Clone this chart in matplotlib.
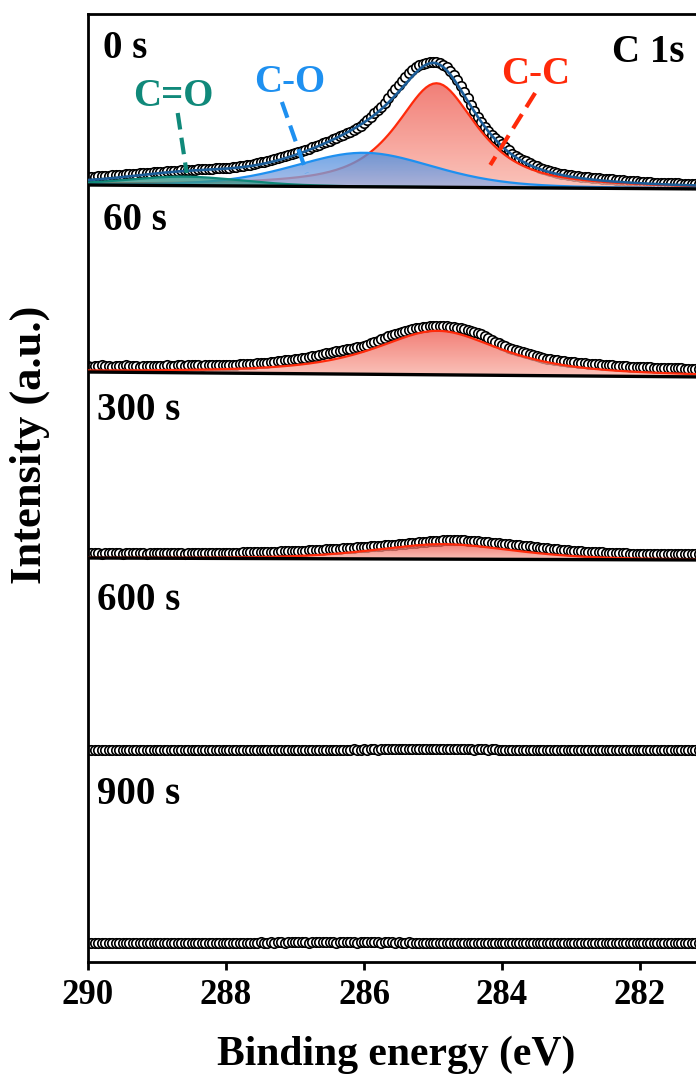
import numpy as np
import matplotlib
matplotlib.use('Agg')
import matplotlib.pyplot as plt
from matplotlib.colors import LinearSegmentedColormap
from matplotlib.patches import PathPatch

plt.rcParams['font.family'] = ['Liberation Serif', 'DejaVu Serif']
plt.rcParams['font.weight'] = 'bold'

# binding energy of the scans (eV), 0.05 eV step
energy = np.linspace(290.0, 281.0, 181)

times = ['0 s', '60 s', '300 s', '600 s', '900 s']
offsets = [773, 585, 402, 212, 19]

# measured C 1s counts (offset per etching time, a.u.)
raw_0s = [12, 12, 12, 13, 13, 13, 13, 14, 14, 14, 14, 15, 15, 15, 15, 16, 16, 16, 16, 17, 17,
          17, 17, 18, 18, 18, 18, 19, 19, 19, 19, 19, 20, 20, 20, 20, 20, 21, 21, 21, 21,
          21, 22, 22, 23, 23, 24, 24, 25, 26, 27, 27, 28, 29, 30, 31, 32, 33, 34, 35, 36,
          37, 38, 39, 40, 42, 43, 44, 46, 47, 48, 50, 51, 53, 54, 56, 57, 59, 61, 63, 66,
          69, 72, 76, 79, 82, 86, 91, 96, 100, 104, 108, 112, 116, 119, 122, 124, 125, 126, 127, 127,
          127, 126, 124, 122, 118, 114, 109, 103, 97, 91, 84, 78, 72, 67, 62, 58, 54, 51, 48, 45,
          42, 39, 35, 33, 31, 29, 28, 26, 24, 23, 21, 20, 19, 18, 17, 16, 15, 15, 14, 14,
          13, 13, 12, 12, 12, 11, 11, 11, 10, 10, 10, 10, 9, 9, 9, 8, 8, 8, 8, 7,
          7, 7, 7, 6, 6, 6, 6, 6, 6, 6, 6, 5, 5, 5, 5, 5, 5, 5, 5, 5]
raw_60s = [11, 10, 11, 11, 12, 11, 11, 10, 11, 11, 11, 12, 11, 11, 11, 10, 11, 11, 11, 11, 11,
           11, 11, 12, 11, 11, 12, 12, 11, 12, 12, 12, 12, 11, 12, 12, 12, 12, 12, 12, 12,
           12, 12, 12, 13, 13, 13, 13, 13, 14, 14, 14, 14, 15, 15, 16, 16, 17, 17, 17, 18,
           18, 19, 19, 20, 21, 21, 22, 23, 24, 24, 25, 26, 26, 27, 28, 28, 29, 30, 30, 31,
           32, 34, 35, 36, 38, 39, 41, 42, 43, 44, 45, 46, 47, 48, 49, 49, 50, 50, 51, 51,
           51, 51, 51, 51, 50, 50, 49, 49, 48, 47, 46, 45, 44, 43, 41, 39, 37, 35, 34, 32,
           31, 29, 28, 27, 26, 25, 24, 23, 22, 21, 20, 19, 18, 18, 17, 17, 16, 16, 15, 15,
           15, 14, 14, 14, 13, 13, 13, 13, 12, 12, 12, 12, 11, 11, 11, 11, 10, 10, 10, 10,
           10, 10, 10, 9, 9, 9, 9, 9, 9, 9, 9, 9, 8, 8, 8, 8, 8, 8, 8, 8]
raw_300s = [7, 7, 7, 7, 6, 7, 7, 7, 7, 7, 6, 7, 7, 7, 7, 7, 7, 6, 7, 7, 7,
            7, 7, 7, 7, 7, 7, 7, 6, 7, 7, 7, 7, 7, 7, 7, 7, 7, 7, 7, 7,
            7, 7, 7, 7, 8, 8, 8, 8, 8, 8, 8, 8, 8, 8, 8, 9, 9, 9, 9, 9,
            9, 9, 9, 10, 10, 10, 10, 10, 11, 11, 11, 11, 11, 12, 12, 12, 12, 13, 13, 13,
            13, 14, 14, 14, 14, 15, 15, 15, 15, 16, 16, 16, 17, 17, 17, 18, 18, 18, 19, 19,
            19, 19, 20, 20, 20, 20, 20, 20, 20, 19, 19, 19, 19, 18, 18, 18, 17, 17, 17, 16,
            16, 16, 15, 15, 15, 14, 14, 14, 13, 13, 12, 12, 12, 11, 11, 11, 10, 10, 10, 9,
            9, 9, 9, 8, 8, 8, 8, 8, 8, 7, 7, 7, 7, 7, 7, 7, 6, 6, 6, 6,
            6, 6, 6, 6, 6, 6, 6, 6, 6, 6, 6, 6, 6, 6, 6, 6, 6, 6, 6, 6]
raw_600s = [0, 0, 0, 0, 0, 0, 0, 0, 0, 0, 0, 0, 0, 0, 0, 0, 0, 0, 0, 0, 0,
            0, 0, 0, 0, 0, 0, 0, 0, 0, 0, 0, 0, 0, 0, 0, 0, 0, 0, 0, 0,
            0, 0, 0, 0, 0, 0, 0, 0, 0, 0, 0, 0, 0, 0, 0, 0, 0, 0, 0, 0,
            0, 0, 0, 0, 0, 0, 0, 0, 0, 0, 0, 0, 0, 0, 0, 0, 1, 0, 0, 1,
            0, 1, 1, 0, 1, 1, 1, 1, 1, 1, 1, 1, 1, 1, 1, 1, 1, 1, 1, 1,
            1, 1, 1, 1, 1, 1, 1, 1, 1, 1, 1, 0, 1, 1, 1, 0, 1, 1, 0, 0,
            0, 0, 0, 0, 0, 0, 0, 0, 0, 0, 0, 0, 0, 0, 0, 0, 0, 0, 0, 0,
            0, 0, 0, 0, 0, 0, 0, 0, 0, 0, 0, 0, 0, 0, 0, 0, 0, 0, 0, 0,
            0, 0, 0, 0, 0, 0, 0, 0, 0, 0, 0, 0, 0, 0, 0, 0, 0, 0, 0, 0]
raw_900s = [0, 0, 0, 0, 0, 0, 0, 0, 0, 0, 0, 0, 0, 0, 0, 0, 0, 0, 0, 0, 0,
            0, 0, 0, 0, 0, 0, 0, 0, 0, 0, 0, 0, 0, 0, 0, 0, 0, 0, 0, 0,
            0, 0, 0, 0, 0, 0, 0, 0, 0, 1, 0, 0, 1, 0, 1, 1, 0, 1, 1, 1,
            1, 1, 1, 0, 1, 1, 1, 1, 1, 1, 1, 0, 1, 1, 1, 1, 1, 0, 1, 1,
            1, 1, 1, 1, 0, 1, 1, 1, 0, 1, 0, 0, 1, 0, 0, 0, 0, 0, 0, 0,
            0, 0, 0, 0, 0, 0, 0, 0, 0, 0, 0, 0, 0, 0, 0, 0, 0, 0, 0, 0,
            0, 0, 0, 0, 0, 0, 0, 0, 0, 0, 0, 0, 0, 0, 0, 0, 0, 0, 0, 0,
            0, 0, 0, 0, 0, 0, 0, 0, 0, 0, 0, 0, 0, 0, 0, 0, 0, 0, 0, 0,
            0, 0, 0, 0, 0, 0, 0, 0, 0, 0, 0, 0, 0, 0, 0, 0, 0, 0, 0, 0]
raws = [raw_0s, raw_60s, raw_300s, raw_600s, raw_900s]

# linear background, values at 290 eV and 281 eV
bg_ends = [290.0, 281.0]
bg_0s = [4, 0]
bg_60s = [5, 0]
bg_300s = [2, 0]

# fitted components: centre (eV), FWHM (eV), height, Lorentzian fraction
names_0s = ['C-C', 'C-O', 'C=O']
center_0s = [284.95, 286.0, 288.6]
fwhm_0s = [1.4, 2.4, 2.0]
height_0s = [104, 34, 9]
mix_0s = [0.8, 0.3, 0.3]

center_60s = [284.93]
fwhm_60s = [2.2]
height_60s = [44]
mix_60s = [0.8]

center_300s = [284.85]
fwhm_300s = [2.4]
height_300s = [15]
mix_300s = [0.5]

red = '#ff2a0a'
blue = '#1e90f0'
teal = '#10897a'
env_color = '#1c5d98'
# (line colour, gradient top, gradient bottom)
styles = {'C-C': (red, '#ee5a50', '#fab4a8'),
          'C-O': (blue, '#4a8fe0', '#9aaee0'),
          'C=O': (teal, '#1c8a7c', '#5fa89e')}


def pseudo_voigt(e, center, fwhm, height, mix):
    d2 = (e - center) ** 2 / fwhm ** 2
    g = np.exp(-4 * np.log(2) * d2)
    lo = 1 / (1 + 4 * d2)
    return height * ((1 - mix) * g + mix * lo)


def gradient_fill(ax, x, top, bottom, c_top, c_bot, z):
    poly = ax.fill_between(x, bottom, top, facecolor='none', edgecolor='none', zorder=z)
    clip = PathPatch(poly.get_paths()[0], transform=ax.transData,
                     facecolor='none', edgecolor='none')
    ax.add_patch(clip)
    cmap = LinearSegmentedColormap.from_list('grad', [c_bot, c_top])
    grad = np.linspace(0, 1, 256).reshape(-1, 1)
    im = ax.imshow(grad, cmap=cmap, aspect='auto', origin='lower', alpha=0.78,
                   extent=[x.max(), x.min(), bottom.min(), top.max()], zorder=z,
                   interpolation='bilinear')
    im.set_clip_path(clip)


fig = plt.figure(figsize=(6.96, 10.84), dpi=100)
ax = fig.add_axes([88 / 696, 122 / 1084, 690 / 696, 948 / 1084])

# data points
for raw, off in zip(raws, offsets):
    ax.plot(energy, np.array(raw) + off, 'o', ms=6.8, mfc='white', mec='black',
            mew=1.2, zorder=2)

# fits
fits = [(names_0s, center_0s, fwhm_0s, height_0s, mix_0s, bg_0s, offsets[0]),
        (['C-C'], center_60s, fwhm_60s, height_60s, mix_60s, bg_60s, offsets[1]),
        (['C-C'], center_300s, fwhm_300s, height_300s, mix_300s, bg_300s, offsets[2])]
for names, cen, fw, hh, mx, bg, off in fits:
    base = np.interp(energy, bg_ends[::-1], bg[::-1]) + off
    total = base.copy()
    for k, name in enumerate(names):
        comp = pseudo_voigt(energy, cen[k], fw[k], hh[k], mx[k])
        total += comp
        lc, ct, cb = styles[name]
        gradient_fill(ax, energy, base + comp, base, ct, cb, 3 + 2 * k)
        ax.plot(energy, base + comp, color=lc, lw=1.6, zorder=4 + 2 * k)
    if len(names) > 1:
        ax.plot(energy, total, color=env_color, lw=1.9, zorder=9)
    ax.plot(bg_ends, [bg[0] + off, bg[1] + off], color='black', lw=2.4, zorder=10)

# peak labels with dashed pointers
ax.text(288.77, 866, 'C=O', color=teal, fontsize=28, ha='center', va='center')
ax.plot([288.70, 288.57], [849, 789], color=teal, lw=3.0, ls=(0, (4, 2)), zorder=11)
ax.text(287.07, 880, 'C-O', color=blue, fontsize=28, ha='center', va='center')
ax.plot([287.19, 286.83], [860, 789], color=blue, lw=3.0, ls=(0, (4, 2)), zorder=11)
ax.text(283.51, 888, 'C-C', color=red, fontsize=28, ha='center', va='center')
ax.plot([283.52, 284.17], [869, 797], color=red, lw=3.0, ls=(0, (4, 2)), zorder=11)
ax.text(281.88, 910, 'C 1s', fontsize=28, ha='center', va='center')

label_x = [289.78, 289.78, 289.87, 289.87, 289.87]
label_y = [913, 742, 552, 362, 167]
for t, lx, ly in zip(times, label_x, label_y):
    ax.text(lx, ly, t, fontsize=28, ha='left', va='center')

ax.set_xlim(290, 280)
ax.set_ylim(0, 948)
ax.set_xticks([290, 288, 286, 284, 282])
ax.set_yticks([])
ax.tick_params(axis='x', direction='out', length=6, width=2, pad=6, labelsize=25)
for sp in ax.spines.values():
    sp.set_linewidth(2.0)

fig.text(396 / 696, 1 - 1055 / 1084, 'Binding energy (eV)', fontsize=30,
         ha='center', va='center')
fig.text(30 / 696, 1 - 445 / 1084, 'Intensity (a.u.)', fontsize=32,
         ha='center', va='center', rotation=90)

fig.savefig('out.png', dpi=100)
